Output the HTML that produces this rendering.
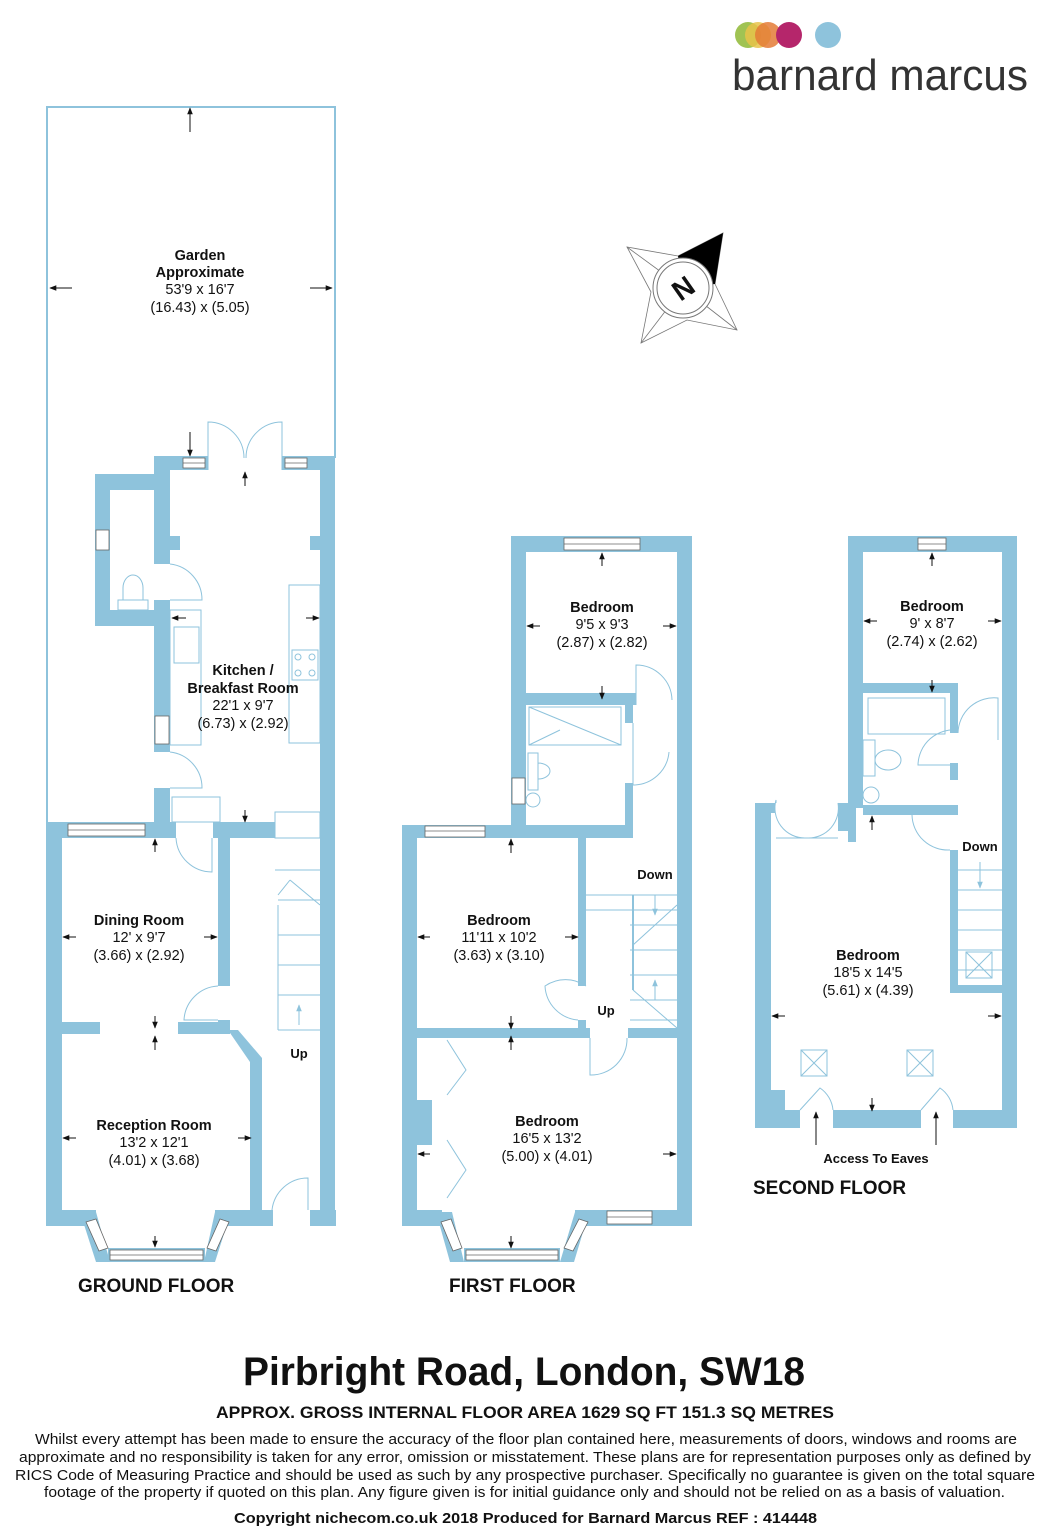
<!DOCTYPE html>
<html><head><meta charset="utf-8"><style>
html,body{margin:0;padding:0;background:#fff}
svg{display:block}
text{font-family:"Liberation Sans",Arial,sans-serif;fill:#111}
.b{font-weight:bold}
</style></head><body>
<svg width="1053" height="1536" viewBox="0 0 1053 1536" xmlns="http://www.w3.org/2000/svg">
<defs>
<marker id="ah" viewBox="0 0 10 10" refX="9" refY="5" markerWidth="7" markerHeight="7" orient="auto"><path d="M0,1 L10,5 L0,9 z" fill="#111"/></marker>
<marker id="ahb" viewBox="0 0 10 10" refX="9" refY="5" markerWidth="7" markerHeight="7" orient="auto"><path d="M0,1 L10,5 L0,9 z" fill="#8ec3dc"/></marker>
</defs>

<!-- LOGO -->
<circle cx="748" cy="35" r="13" fill="#9bc04a" opacity="0.95"/>
<circle cx="758" cy="35" r="13" fill="#e8c34a" opacity="0.85"/>
<circle cx="768" cy="35" r="13" fill="#e47b36" opacity="0.85"/>
<circle cx="789" cy="35" r="13" fill="#b5266b"/>
<circle cx="828" cy="35" r="13" fill="#8ec3dc"/>
<text x="732" y="90" font-size="44" style="fill:#333" textLength="296" lengthAdjust="spacingAndGlyphs">barnard marcus</text>

<!-- COMPASS -->
<polygon points="627,247 678,256 723,233 715,284 737,330 687,320 641,343 651,292" fill="#fff" stroke="#777" stroke-width="0.8"/>
<g stroke="#777" stroke-width="0.8">
<line x1="627" y1="247" x2="683" y2="288"/><line x1="723" y1="233" x2="683" y2="288"/>
<line x1="737" y1="330" x2="683" y2="288"/><line x1="641" y1="343" x2="683" y2="288"/>
</g>
<polygon points="723,233 678,256 683,288 715,284" fill="#000"/>
<circle cx="683" cy="288" r="30" fill="#fff" stroke="#777"/>
<circle cx="683" cy="288" r="26" fill="none" stroke="#777"/>
<text x="683" y="298" font-size="28" class="b" text-anchor="middle" transform="rotate(-35 683 288)">N</text>

<g fill="#8ec3dc">
<!-- GROUND FLOOR -->
<rect x="46" y="106" width="2" height="720"/>
<rect x="334" y="106" width="2" height="352"/>
<rect x="46" y="106" width="290" height="2"/>
<rect x="154" y="456" width="54" height="14"/>
<rect x="282" y="456" width="53" height="14"/>
<rect x="320" y="456" width="15" height="770"/>
<rect x="154" y="456" width="16" height="108"/>
<rect x="154" y="600" width="16" height="152"/>
<rect x="154" y="788" width="16" height="50"/>
<rect x="95" y="474" width="75" height="16"/>
<rect x="95" y="474" width="15" height="152"/>
<rect x="95" y="610" width="75" height="16"/>
<rect x="170" y="536" width="10" height="14"/>
<rect x="310" y="536" width="10" height="14"/>
<rect x="46" y="822" width="130" height="16"/>
<rect x="213" y="822" width="62" height="16"/>
<rect x="46" y="822" width="16" height="404"/>
<rect x="218" y="838" width="12" height="148"/>
<rect x="218" y="1020" width="12" height="12"/>
<rect x="62" y="1022" width="38" height="12"/>
<rect x="178" y="1022" width="52" height="12"/>
<polygon points="228,1030 238,1030 262,1058 262,1064 250,1064 250,1062"/>
<rect x="250" y="1060" width="12" height="155"/>
<rect x="46" y="1210" width="50" height="16"/>
<rect x="215" y="1210" width="58" height="16"/>
<rect x="310" y="1210" width="26" height="16"/>
<polygon points="80,1212 96,1212 110,1262 96,1262"/>
<polygon points="215,1212 231,1212 215,1262 204,1262"/>
<rect x="108" y="1248" width="97" height="14"/>

<!-- FIRST FLOOR -->
<rect x="511" y="536" width="181" height="16"/>
<rect x="511" y="536" width="15" height="302"/>
<rect x="677" y="536" width="15" height="690"/>
<rect x="526" y="693" width="110" height="12"/>
<rect x="625" y="693" width="8" height="30"/>
<rect x="625" y="783" width="8" height="55"/>
<rect x="402" y="825" width="230" height="13"/>
<rect x="402" y="825" width="15" height="401"/>
<rect x="578" y="838" width="8" height="148"/>
<rect x="578" y="1020" width="8" height="12"/>
<rect x="417" y="1028" width="173" height="10"/>
<rect x="628" y="1028" width="50" height="10"/>
<rect x="417" y="1100" width="15" height="45"/>
<rect x="402" y="1210" width="40" height="16"/>
<rect x="575" y="1210" width="117" height="16"/>
<polygon points="436,1212 452,1212 464,1262 450,1262"/>
<polygon points="575,1212 589,1212 574,1262 560,1262"/>
<rect x="464" y="1248" width="96" height="14"/>

<!-- SECOND FLOOR -->
<rect x="848" y="536" width="169" height="16"/>
<rect x="848" y="536" width="15" height="272"/>
<rect x="1002" y="536" width="15" height="592"/>
<rect x="863" y="683" width="95" height="10"/>
<rect x="950" y="683" width="8" height="50"/>
<rect x="950" y="763" width="8" height="17"/>
<rect x="863" y="805" width="95" height="10"/>
<rect x="755" y="803" width="20" height="10"/>
<rect x="755" y="803" width="16" height="325"/>
<rect x="838" y="803" width="10" height="28"/>
<rect x="848" y="800" width="8" height="42"/>
<rect x="950" y="850" width="8" height="143"/>
<rect x="950" y="985" width="52" height="8"/>
<rect x="771" y="1090" width="14" height="20"/>
<rect x="755" y="1110" width="45" height="18"/>
<rect x="833" y="1110" width="88" height="18"/>
<rect x="953" y="1110" width="64" height="18"/>
</g>

<!-- windows -->
<g fill="#fff" stroke="#666" stroke-width="0.8">
<rect x="183" y="458" width="22" height="10"/><rect x="285" y="458" width="22" height="10"/>
<rect x="96" y="530" width="13" height="20"/>
<rect x="155" y="716" width="14" height="28"/>
<rect x="68" y="824" width="77" height="12"/>
<rect x="110" y="1250" width="93" height="10"/>
<rect x="564" y="538" width="76" height="12"/>
<rect x="512" y="778" width="13" height="26"/>
<rect x="425" y="826" width="60" height="11"/>
<rect x="607" y="1211" width="45" height="13"/>
<rect x="466" y="1250" width="92" height="10"/>
<rect x="918" y="538" width="28" height="12"/>
<polygon points="86,1222 96,1219 108,1248 99,1251"/>
<polygon points="220,1219 229,1222 216,1251 207,1248"/>
<polygon points="441,1222 451,1219 462,1248 453,1251"/>
<polygon points="579,1219 588,1222 573,1251 564,1248"/>
</g>
<g stroke="#666" stroke-width="0.8">
<line x1="183" y1="463" x2="205" y2="463"/><line x1="285" y1="463" x2="307" y2="463"/>
<line x1="68" y1="830" x2="145" y2="830"/><line x1="564" y1="544" x2="640" y2="544"/>
<line x1="425" y1="831" x2="485" y2="831"/><line x1="607" y1="1217" x2="652" y2="1217"/>
<line x1="110" y1="1255" x2="203" y2="1255"/><line x1="466" y1="1255" x2="558" y2="1255"/>
<line x1="918" y1="544" x2="946" y2="544"/>
</g>

<!-- fixtures / doors -->
<g fill="none" stroke="#8ec3dc" stroke-width="1">
<path d="M208,470 L208,422 A36,36 0 0 1 244,458 M282,470 L282,422 A36,36 0 0 0 246,458"/>
<path d="M170,564 A36,36 0 0 1 202,600 L170,600"/>
<path d="M170,752 A36,36 0 0 1 202,788 L170,788"/>
<path d="M176,838 A36,36 0 0 0 212,872 L212,838"/>
<path d="M218,986 A36,36 0 0 0 184,1020 L218,1020"/>
<path d="M272,1210 A36,36 0 0 1 308,1178 L308,1210"/>
<rect x="289" y="585" width="31" height="158"/>
<rect x="292" y="650" width="26" height="30"/>
<circle cx="298" cy="657" r="3"/><circle cx="312" cy="657" r="3"/><circle cx="298" cy="673" r="3"/><circle cx="312" cy="673" r="3"/>
<rect x="170" y="610" width="31" height="135"/>
<rect x="174" y="627" width="25" height="36"/>
<path d="M123,600 L123,588 A10,13 0 0 1 143,588 L143,600 M118,600 L148,600 L148,610 L118,610 z"/>
<rect x="172" y="797" width="48" height="25"/><rect x="275" y="812" width="45" height="26"/>
<path d="M275,838 L320,838 M275,870 L320,870 M278,900 L320,900 M278,935 L320,935 M278,965 L320,965 M278,995 L320,995 M278,1030 L320,1030"/>
<path d="M290,880 L320,905 M290,880 L278,895"/>
<line x1="278" y1="905" x2="278" y2="1030"/>
<path d="M299,1025 L299,1005" marker-end="url(#ahb)"/>
<rect x="529" y="707" width="92" height="38"/>
<path d="M529,707 L621,745 M529,745 L560,730"/>
<path d="M528,753 L538,753 L538,790 L528,790 z M538,763 A12,8 0 0 1 538,779"/>
<circle cx="533" cy="800" r="7"/>
<path d="M636,705 L636,665 A36,36 0 0 1 672,700"/>
<path d="M633,723 L633,785 A36,36 0 0 0 669,752"/>
<path d="M586,986 A36,36 0 0 0 545,986 A36,36 0 0 0 578,1020"/>
<path d="M590,1038 L590,1075 A36,36 0 0 0 627,1038"/>
<path d="M586,895 L677,895 M586,910 L677,910 M630,925 L677,925 M630,950 L677,950 M630,975 L677,975 M630,1000 L677,1000 M630,1020 L677,1020"/>
<line x1="633" y1="895" x2="633" y2="990" stroke-width="2"/>
<path d="M633,990 L677,1028 M633,945 L677,905"/>
<path d="M655,895 L655,915" marker-end="url(#ahb)"/><path d="M655,1000 L655,980" marker-end="url(#ahb)"/>
<path d="M447,1040 L466,1070 L447,1095 M447,1140 L466,1170 L447,1198"/>
<rect x="868" y="698" width="77" height="36"/>
<rect x="863" y="740" width="12" height="36"/><ellipse cx="888" cy="760" rx="13" ry="10"/>
<circle cx="871" cy="795" r="8"/>
<path d="M958,733 A36,36 0 0 1 998,698 L998,740"/>
<path d="M958,730 A36,36 0 0 0 918,765 L958,765"/>
<path d="M912,815 A36,36 0 0 0 950,850"/>
<path d="M776,803 L776,800 A30,30 0 0 0 805,838 M838,803 A30,30 0 0 1 808,838 M776,838 L838,838"/>
<path d="M958,870 L1002,870 M958,890 L1002,890 M958,910 L1002,910 M958,930 L1002,930 M958,950 L1002,950 M958,970 L1002,970"/>
<path d="M980,862 L980,888" marker-end="url(#ahb)"/>
<rect x="966" y="952" width="26" height="26"/><path d="M966,952 L992,978 M992,952 L966,978"/>
<rect x="801" y="1050" width="26" height="26"/><path d="M801,1050 L827,1076 M827,1050 L801,1076"/>
<rect x="907" y="1050" width="26" height="26"/><path d="M907,1050 L933,1076 M933,1050 L907,1076"/>
<path d="M800,1110 L820,1088 A30,30 0 0 1 833,1110 M921,1110 L940,1088 A30,30 0 0 1 953,1110"/>
</g>

<!-- dimension arrows -->
<g stroke="#111" stroke-width="1" marker-end="url(#ah)">
<path d="M190,132 L190,108"/><path d="M72,288 L50,288"/><path d="M310,288 L332,288"/>
<path d="M190,432 L190,456"/><path d="M245,486 L245,472"/>
<path d="M186,618 L172,618"/><path d="M306,618 L319,618"/>
<path d="M245,810 L245,822"/><path d="M155,852 L155,839"/>
<path d="M76,937 L63,937"/><path d="M204,937 L217,937"/>
<path d="M155,1016 L155,1028"/><path d="M155,1050 L155,1036"/>
<path d="M76,1138 L63,1138"/><path d="M238,1138 L251,1138"/>
<path d="M155,1236 L155,1247"/>
<path d="M602,566 L602,553"/><path d="M540,626 L527,626"/><path d="M663,626 L676,626"/><path d="M602,686 L602,699"/>
<path d="M511,853 L511,839"/><path d="M430,937 L418,937"/><path d="M565,937 L578,937"/>
<path d="M511,1016 L511,1029"/><path d="M511,1050 L511,1036"/>
<path d="M430,1154 L418,1154"/><path d="M663,1154 L676,1154"/><path d="M511,1236 L511,1248"/>
<path d="M932,566 L932,553"/><path d="M877,621 L864,621"/><path d="M988,621 L1001,621"/>
<path d="M932,680 L932,692"/><path d="M872,830 L872,816"/>
<path d="M785,1016 L772,1016"/><path d="M988,1016 L1001,1016"/><path d="M872,1098 L872,1111"/>
<path d="M816,1145 L816,1112"/><path d="M936,1145 L936,1112"/>
</g>

<!-- labels -->
<g text-anchor="middle" font-size="14.5">
<text x="200" y="260" class="b">Garden</text><text x="200" y="277" class="b">Approximate</text>
<text x="200" y="294">53'9 x 16'7</text><text x="200" y="312">(16.43) x (5.05)</text>
<text x="243" y="675" class="b">Kitchen /</text><text x="243" y="693" class="b">Breakfast Room</text>
<text x="243" y="710">22'1 x 9'7</text><text x="243" y="728">(6.73) x (2.92)</text>
<text x="139" y="925" class="b">Dining Room</text><text x="139" y="942">12' x 9'7</text><text x="139" y="960">(3.66) x (2.92)</text>
<text x="154" y="1130" class="b">Reception Room</text><text x="154" y="1147">13'2 x 12'1</text><text x="154" y="1165">(4.01) x (3.68)</text>
<text x="299" y="1058" class="b" font-size="13">Up</text>
<text x="602" y="612" class="b">Bedroom</text><text x="602" y="629">9'5 x 9'3</text><text x="602" y="647">(2.87) x (2.82)</text>
<text x="499" y="925" class="b">Bedroom</text><text x="499" y="942">11'11 x 10'2</text><text x="499" y="960">(3.63) x (3.10)</text>
<text x="547" y="1126" class="b">Bedroom</text><text x="547" y="1143">16'5 x 13'2</text><text x="547" y="1161">(5.00) x (4.01)</text>
<text x="655" y="879" class="b" font-size="13">Down</text><text x="606" y="1015" class="b" font-size="13">Up</text>
<text x="932" y="611" class="b">Bedroom</text><text x="932" y="628">9' x 8'7</text><text x="932" y="646">(2.74) x (2.62)</text>
<text x="868" y="960" class="b">Bedroom</text><text x="868" y="977">18'5 x 14'5</text><text x="868" y="995">(5.61) x (4.39)</text>
<text x="980" y="851" class="b" font-size="13">Down</text>
<text x="876" y="1163" class="b" font-size="13">Access To Eaves</text>
</g>
<text x="78" y="1292" class="b" font-size="19">GROUND FLOOR</text>
<text x="449" y="1292" class="b" font-size="19">FIRST FLOOR</text>
<text x="753" y="1194" class="b" font-size="19">SECOND FLOOR</text>

<text x="243" y="1385" class="b" font-size="40" textLength="562" lengthAdjust="spacingAndGlyphs">Pirbright Road, London, SW18</text>
<text x="216" y="1418" class="b" font-size="17" textLength="618" lengthAdjust="spacingAndGlyphs">APPROX. GROSS INTERNAL FLOOR AREA 1629 SQ FT 151.3 SQ METRES</text>
<g font-size="15">
<text x="35" y="1444" textLength="982" lengthAdjust="spacingAndGlyphs">Whilst every attempt has been made to ensure the accuracy of the floor plan contained here, measurements of doors, windows and rooms are</text>
<text x="19" y="1462" textLength="1012" lengthAdjust="spacingAndGlyphs">approximate and no responsibility is taken for any error, omission or misstatement. These plans are for representation purposes only as defined by</text>
<text x="15" y="1480" textLength="1020" lengthAdjust="spacingAndGlyphs">RICS Code of Measuring Practice and should be used as such by any prospective purchaser.  Specifically no guarantee is given on the total square</text>
<text x="44" y="1497" textLength="961" lengthAdjust="spacingAndGlyphs">footage of the property if quoted on this plan. Any figure given is for initial guidance only and should not be relied on as a basis of valuation.</text>
</g>
<text x="234" y="1523" class="b" font-size="15" textLength="583" lengthAdjust="spacingAndGlyphs">Copyright nichecom.co.uk 2018    Produced for Barnard Marcus    REF : 414448</text>
</svg>
</body></html>
